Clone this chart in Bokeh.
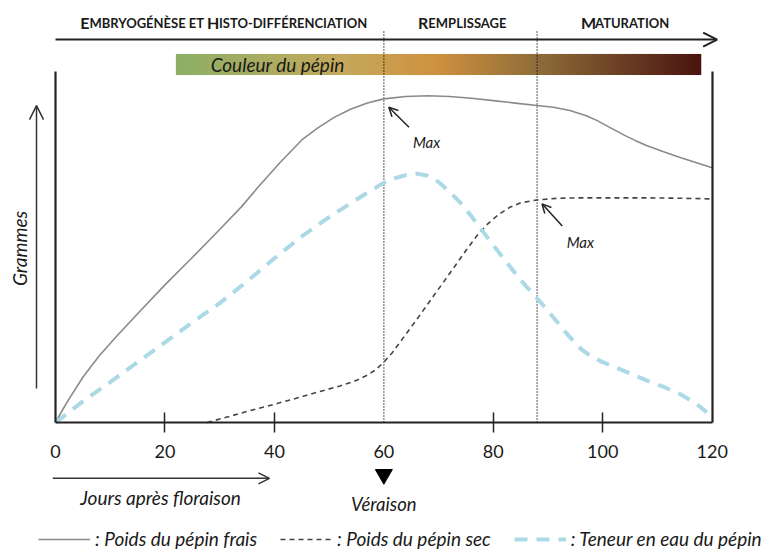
import numpy as np
from bokeh.plotting import figure
from bokeh.models import (Range1d, LinearAxis, FixedTicker, Arrow, OpenHead, Label,
                          Legend, LegendItem)
from bokeh.embed import file_html
from bokeh.resources import INLINE
from bokeh.core.properties import value

# ---------------- data ----------------
days_fresh = [0, 2, 5, 8, 11, 15, 20, 25, 30, 34, 37, 41, 45, 48, 51, 54, 57, 60, 64, 68, 72, 76,
              80, 84, 88, 91, 94, 97, 99, 101, 104, 106, 108, 111, 114, 117, 120]
fresh = [0, 5.5, 12.9, 19, 24.3, 31, 39.2, 47, 55, 61.5, 67, 74, 80.5, 84, 87, 89.3, 91, 92.2, 92.9,
         93.1, 92.9, 92.4, 91.7, 91.0, 90.3, 89.8, 88.9, 87.4, 86.0, 84.3, 81.8, 80.3, 78.9, 77.2,
         75.6, 74.1, 72.6]

days_dry = [27.7, 31, 35.6, 40, 44, 48, 52, 55, 57, 58.5, 60, 61.5, 63, 65, 67, 69, 71, 73, 75, 77,
            79, 81, 83, 85, 88, 92, 96, 102, 108, 114, 120]
dry = [0, 1.4, 3.4, 5.2, 6.9, 8.7, 10.4, 12.0, 13.5, 15.0, 17.2, 19.8, 23.0, 27.2, 31.5, 35.9, 40.2,
       44.6, 49.0, 53.2, 56.6, 59.3, 61.3, 62.6, 63.4, 63.9, 64.0, 64.0, 64.0, 63.9, 63.7]

days_water = [0, 5, 10, 15, 20, 25, 30, 35, 40, 45, 50, 54, 57, 60, 62, 64, 66, 68, 70, 72, 74, 76,
              78, 80, 82, 84, 86, 88, 90, 92, 94, 96, 98, 100, 102, 105, 108, 111, 114, 117, 119]
water = [0, 6, 11.5, 17.2, 22.8, 28.5, 34, 40.2, 46.8, 53, 58.5, 62.5, 65.5, 68.3, 69.6, 70.5, 70.9,
         70.3, 68.5, 65.8, 62.6, 58.8, 54.6, 50.5, 46.5, 42.5, 38.8, 35.4, 31.8, 28.0, 24.3, 21.0,
         18.7, 17.2, 15.9, 14.0, 12.0, 10.2, 8.2, 5.5, 2.9]

x_ticks = [0, 20, 40, 60, 80, 100, 120]
tick_marks = [20, 40, 80, 100]
stage_days = [60, 88]          # véraison, max poids sec
phases = ["Embryogénèse et Histo-différenciation", "Remplissage", "Maturation"]
phase_centers = [30.6, 74.3, 104.1]
color_stops_x = [22, 52.6, 69.6, 88.1, 118]
color_stops = ["#8cb066", "#c5a95c", "#d0913f", "#8e6d3a", "#4a140f"]
legend_labels = [": Poids du pépin frais", ": Poids du pépin sec", ": Teneur en eau du pépin"]

FONT = "Lato"
INK = "#1a1a1a"

W, H = 769, 552
X0, X1 = -10.05, 130.47
Y0, Y1 = -37.04, 120.23
p = figure(width=W, height=H, x_range=Range1d(X0, X1), y_range=Range1d(Y0, Y1),
           x_axis_type=None, y_axis_type=None, toolbar_location=None,
           output_backend="svg", min_border=0, outline_line_color=None)
p.background_fill_color = "white"
px_x = (X1 - X0) / W   # data units per pixel (x)

# ---------------- colour bar (gradient image) ----------------
N = 600
gx = np.linspace(color_stops_x[0], color_stops_x[-1], N)
rgb = np.array([[int(c[i:i + 2], 16) for i in (1, 3, 5)] for c in color_stops], dtype=float)
img = np.empty((1, N), dtype=np.uint32)
view = img.view(dtype=np.uint8).reshape((1, N, 4))
for k in range(3):
    view[0, :, k] = np.interp(gx, color_stops_x, rgb[:, k]).astype(np.uint8)
view[0, :, 3] = 255
p.image_rgba(image=[img], x=color_stops_x[0], y=99, dw=color_stops_x[-1] - color_stops_x[0], dh=6)
p.text(x=[40.6], y=[102], text=["Couleur du pépin"], text_font=value(FONT),
       text_font_style="italic", text_font_size="19px", text_align="center",
       text_baseline="middle", text_color=INK)

# ---------------- stage lines ----------------
for d in stage_days:
    p.line([d, d], [0, 111.7], line_color="#111111", line_width=1.4, line_dash="1 2")

# ---------------- curves ----------------
r_fresh = p.line(days_fresh, fresh, line_color="#8a8a8a", line_width=1.6)
r_dry = p.line(days_dry, dry, line_color="#444444", line_width=1.6, line_dash="5 4")
r_water = p.line(days_water, water, line_color="#acd9e6", line_width=4, line_dash="13 9")

# ---------------- axes ----------------
xa = LinearAxis(fixed_location=0, bounds=(0, 120), ticker=FixedTicker(ticks=x_ticks),
                major_tick_in=0, major_tick_out=0, minor_tick_line_color=None,
                major_tick_line_color=None, axis_line_width=2.2, axis_line_color="#222222",
                major_label_text_font=FONT, major_label_text_font_size="18px",
                major_label_text_color=INK, major_label_standoff=23)
p.add_layout(xa, "below")
xt = LinearAxis(fixed_location=0, bounds=(0, 120), ticker=FixedTicker(ticks=tick_marks),
                major_tick_in=10, major_tick_out=10, minor_tick_line_color=None,
                major_tick_line_color="#222222", major_tick_line_width=1.5,
                axis_line_color=None,
                major_label_overrides={t: "" for t in tick_marks})
p.add_layout(xt, "below")
ya = LinearAxis(fixed_location=0, bounds=(0, 100), ticker=FixedTicker(ticks=[]),
                axis_line_width=2.2, axis_line_color="#222222", minor_tick_line_color=None,
                major_tick_line_color=None)
p.add_layout(ya, "left")
yr = LinearAxis(fixed_location=120, bounds=(0, 100), ticker=FixedTicker(ticks=[]),
                axis_line_width=2.2, axis_line_color="#222222", minor_tick_line_color=None,
                major_tick_line_color=None)
p.add_layout(yr, "right")

# ---------------- header (small caps) ----------------
BIG, SMALL = 16, 13
HEADER_Y = 113.9
adv = {"A": .68, "B": .66, "C": .64, "D": .73, "E": .58, "F": .55, "G": .72, "H": .75, "I": .30,
       "L": .52, "M": .88, "N": .75, "O": .78, "P": .62, "R": .64, "S": .55, "T": .58, "U": .73,
       "Y": .63, "É": .58, "È": .58, "-": .37, " ": .26}
big_x, big_t, small_x, small_t = [], [], [], []
for label, cx in zip(phases, phase_centers):
    segs = []
    for ch in label:
        b = ch.isupper()
        if segs and segs[-1][1] == b:
            segs[-1][0] += ch.upper()
        else:
            segs.append([ch.upper(), b])
    widths = [sum(adv.get(c, .62) for c in s) * (BIG if b else SMALL) for s, b in segs]
    x = cx - sum(widths) / 2 * px_x
    for (s, b), w in zip(segs, widths):
        (big_x if b else small_x).append(x)
        (big_t if b else small_t).append(s)
        x += w * px_x
p.text(x=big_x, y=[HEADER_Y] * len(big_x), text=big_t, text_font=value(FONT), text_font_style="bold",
       text_font_size=f"{BIG}px", text_baseline="alphabetic", text_align="left", text_color=INK)
p.text(x=small_x, y=[HEADER_Y] * len(small_x), text=small_t, text_font=value(FONT), text_font_style="bold",
       text_font_size=f"{SMALL}px", text_baseline="alphabetic", text_align="left", text_color=INK)
p.add_layout(Arrow(x_start=0, y_start=109.1, x_end=120.9, y_end=109.1, line_width=2,
                   line_color="#222222", end=OpenHead(size=14, line_width=2, line_color="#222222")))

# ---------------- annotations ----------------
for (xs, ys, xe, ye) in [(64.6, 84.1, 60.9, 89.8), (92.6, 56.0, 88.9, 62.3)]:
    p.add_layout(Arrow(x_start=xs, y_start=ys, x_end=xe, y_end=ye, line_width=1.5, line_color="#222222",
                       end=OpenHead(size=9, line_width=1.5, line_color="#222222")))
p.text(x=[67.8, 95.9], y=[79.8, 51.4], text=["Max", "Max"], text_font=value(FONT),
       text_font_style="italic", text_font_size="15px", text_align="center",
       text_baseline="middle", text_color=INK)

p.add_layout(Arrow(x_start=-3.47, y_start=9.7, x_end=-3.47, y_end=90.3, line_width=1.5, line_color="#333333",
                   end=OpenHead(size=14, line_width=1.5, line_color="#333333")))
p.add_layout(Label(x=-6.49, y=49.6, text="Grammes", angle=np.pi / 2, text_align="center",
                   text_baseline="middle", text_font=FONT, text_font_style="italic",
                   text_font_size="19px", text_color=INK))

p.add_layout(Arrow(x_start=-0.49, y_start=-15.9, x_end=39.1, y_end=-15.9, line_width=1.5, line_color="#333333",
                   end=OpenHead(size=11, line_width=1.5, line_color="#333333")))
p.add_layout(Label(x=19.2, y=-21.4, text="Jours après floraison", text_align="center",
                   text_baseline="middle", text_font=FONT, text_font_style="italic",
                   text_font_size="19px", text_color=INK))

p.scatter([stage_days[0]], [-14.8], marker="inverted_triangle", size=17,
          fill_color="black", line_color="black")
p.add_layout(Label(x=stage_days[0], y=-23.1, text="Véraison", text_align="center",
                   text_baseline="middle", text_font=FONT, text_font_style="italic",
                   text_font_size="18.5px", text_color=INK))

# ---------------- legend ----------------
legend = Legend(items=[LegendItem(label=legend_labels[0], renderers=[r_fresh]),
                       LegendItem(label=legend_labels[1], renderers=[r_dry]),
                       LegendItem(label=legend_labels[2], renderers=[r_water])],
                orientation="horizontal", location=(38, 2), glyph_width=52, glyph_height=20,
                label_height=20, label_standoff=5, spacing=23, padding=0, margin=0,
                border_line_color=None, background_fill_alpha=0,
                label_text_font=FONT, label_text_font_style="italic",
                label_text_font_size="19px", label_text_color=INK)
p.add_layout(legend, "center")

open("out.html", "w").write(file_html(p, INLINE))
